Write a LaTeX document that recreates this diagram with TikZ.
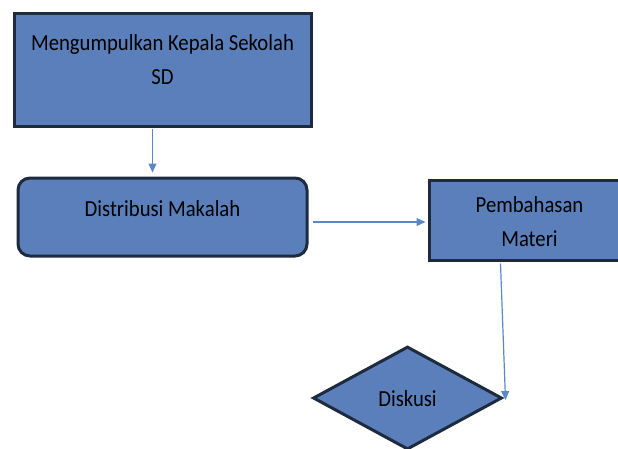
\documentclass[tikz,border=0pt]{standalone}
\usepackage{fontspec}
\setmainfont{Carlito}[FakeStretch=0.9]
\usetikzlibrary{arrows.meta,shapes.geometric,calc}
\definecolor{boxfill}{HTML}{5A7FBA}
\definecolor{boxline}{HTML}{1E2A3E}
\definecolor{arrowc}{HTML}{5B87C5}
\begin{document}
\begin{tikzpicture}[x=1pt,y=-1pt,
  box/.style={draw=boxline,fill=boxfill,line width=3pt,inner sep=0pt},
  txt/.style={align=center,font=\fontsize{23}{34}\selectfont,inner sep=0pt,text=black},
  conn/.style={draw=arrowc,line width=1.2pt,-{Triangle[length=9pt,width=8pt]}}]
\useasboundingbox (0,0) rectangle (618,448);
\clip (0,0) rectangle (618,448);
\node[box,minimum width=297pt,minimum height=113pt] (b1) at (162.5,69.5) {};
\node[txt] (t1) at (162.5,60) {Mengumpulkan Kepala Sekolah\\SD};
\node[box,rounded corners=12pt,minimum width=289pt,minimum height=78pt] (b2) at (162.5,217) {};
\node[txt] (t2) at (162.5,209) {Distribusi Makalah};
\node[box,minimum width=201pt,minimum height=80pt] (b3) at (529.5,220) {};
\node[txt] (t3) at (529.5,222) {Pembahasan\\Materi};
\node[box,diamond,minimum width=189pt,minimum height=103pt,aspect=1.83] (d) at (407.5,398) {};
\node[txt] (t4) at (407.5,399) {Diskusi};
\coordinate (a1s) at ($(b1.south west)+(140,1)$);
\coordinate (a1e) at ($(b2.north west)+(136,-4)$);
\draw[conn] (a1s) -- (a1e);
\coordinate (a2s) at ($(b2.east)+(4,5)$);
\coordinate (a2e) at ($(b3.west)+(-2,2)$);
\draw[conn] (a2s) -- (a2e);
\coordinate (a3s) at ($(b3.south west)+(73,2)$);
\coordinate (a3e) at ($(d.east)+(2,2)$);
\draw[conn] (a3s) -- (a3e);
\end{tikzpicture}
\end{document}
